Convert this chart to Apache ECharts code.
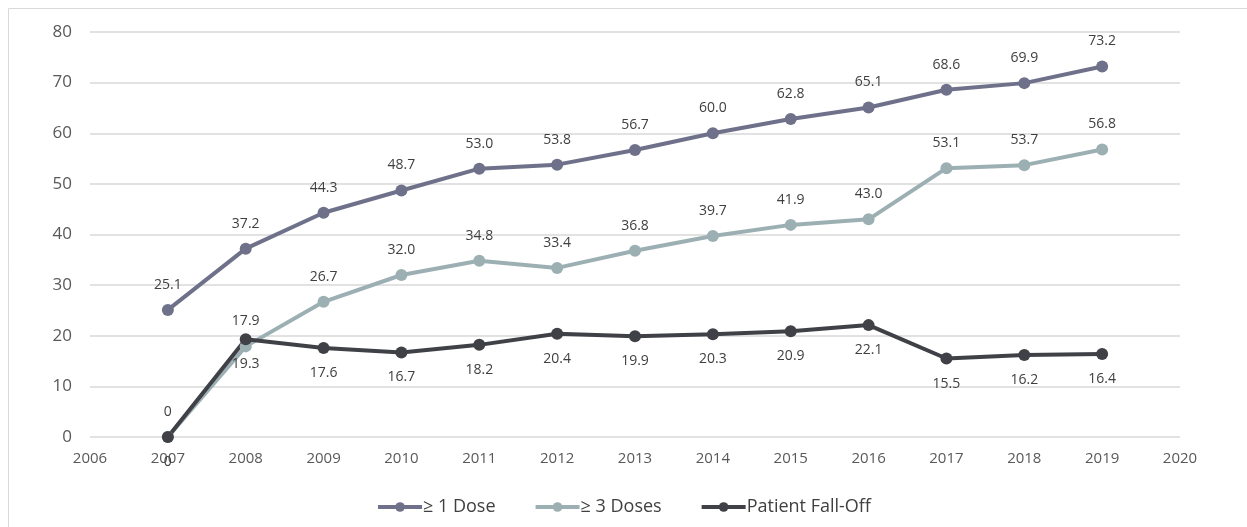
<!DOCTYPE html>
<html>
<head>
<meta charset="utf-8">
<script src="https://cdn.jsdelivr.net/npm/echarts@6/dist/echarts.min.js"></script>
<style>
    html, body { margin: 0; padding: 0; background: #fff; }
    #chart { width: 1247px; height: 527px; }
</style>
</head>
<body>
<div id="chart"></div>
<script>
// 数据
const years = [2007, 2008, 2009, 2010, 2011, 2012, 2013, 2014, 2015, 2016, 2017, 2018, 2019];
const oneDose = [25.1, 37.2, 44.3, 48.7, 53.0, 53.8, 56.7, 60.0, 62.8, 65.1, 68.6, 69.9, 73.2];
const threeDoses = [0, 17.9, 26.7, 32.0, 34.8, 33.4, 36.8, 39.7, 41.9, 43.0, 53.1, 53.7, 56.8];
const fallOff = [0, 19.3, 17.6, 16.7, 18.2, 20.4, 19.9, 20.3, 20.9, 22.1, 15.5, 16.2, 16.4];
const seriesNames = ['≥ 1 Dose', '≥ 3 Doses', 'Patient Fall-Off'];

const chart = echarts.init(document.getElementById('chart'));

function makeSeries(name, values, color, labelPos, fmt) {
    return {
        name: name,
        type: 'line',
        data: years.map((y, i) => [y, values[i]]),
        symbol: 'circle',
        symbolSize: 12,
        lineStyle: { color: color, width: 4 },
        itemStyle: { color: color },
        label: {
            show: true,
            position: labelPos,
            distance: 12,
            color: '#404040',
            fontSize: 14,
            fontFamily: 'Open Sans',
            formatter: fmt
        }
    };
}

const fmt1 = p => p.value[1] === 0 ? '0' : p.value[1].toFixed(1);

const option = {
    backgroundColor: '#fff',
    animation: false,
    graphic: [{
        type: 'rect',
        shape: { x: 8.5, y: 8.5, width: 1260, height: 540 },
        style: { fill: 'none', stroke: '#d9d9d9', lineWidth: 1 }
    }],
    grid: {
        left: 90,
        right: 67,
        top: 32,
        bottom: 90
    },
    legend: {
        bottom: 6,
        left: 'center',
        itemWidth: 44,
        itemHeight: 12,
        itemGap: 38,
        lineStyle: { width: 4 },
        textStyle: { color: '#404040', fontSize: 18, fontFamily: 'Open Sans', padding: [0, 0, 0, -4] },
        data: seriesNames
    },
    xAxis: {
        type: 'value',
        min: 2006,
        max: 2020,
        interval: 1,
        axisLine: { show: false },
        axisTick: { show: false },
        splitLine: { show: false },
        axisLabel: {
            color: '#595959',
            fontSize: 15,
            fontFamily: 'Open Sans',
            margin: 14,
            formatter: v => String(v)
        }
    },
    yAxis: {
        type: 'value',
        min: 0,
        max: 80,
        interval: 10,
        axisLine: { show: false },
        axisTick: { show: false },
        splitLine: { lineStyle: { color: '#d9d9d9', width: 1.5 } },
        axisLabel: {
            color: '#595959',
            fontSize: 17,
            fontFamily: 'Open Sans',
            margin: 18
        }
    },
    series: [
        makeSeries(seriesNames[0], oneDose, '#6e7189', 'top', fmt1),
        makeSeries(seriesNames[1], threeDoses, '#9cb0b3', 'top', fmt1),
        makeSeries(seriesNames[2], fallOff, '#3f4147', 'bottom', fmt1)
    ]
};

chart.setOption(option);

window.addEventListener('resize', () => {
    chart && chart.resize();
});
</script>
</body>
</html>
